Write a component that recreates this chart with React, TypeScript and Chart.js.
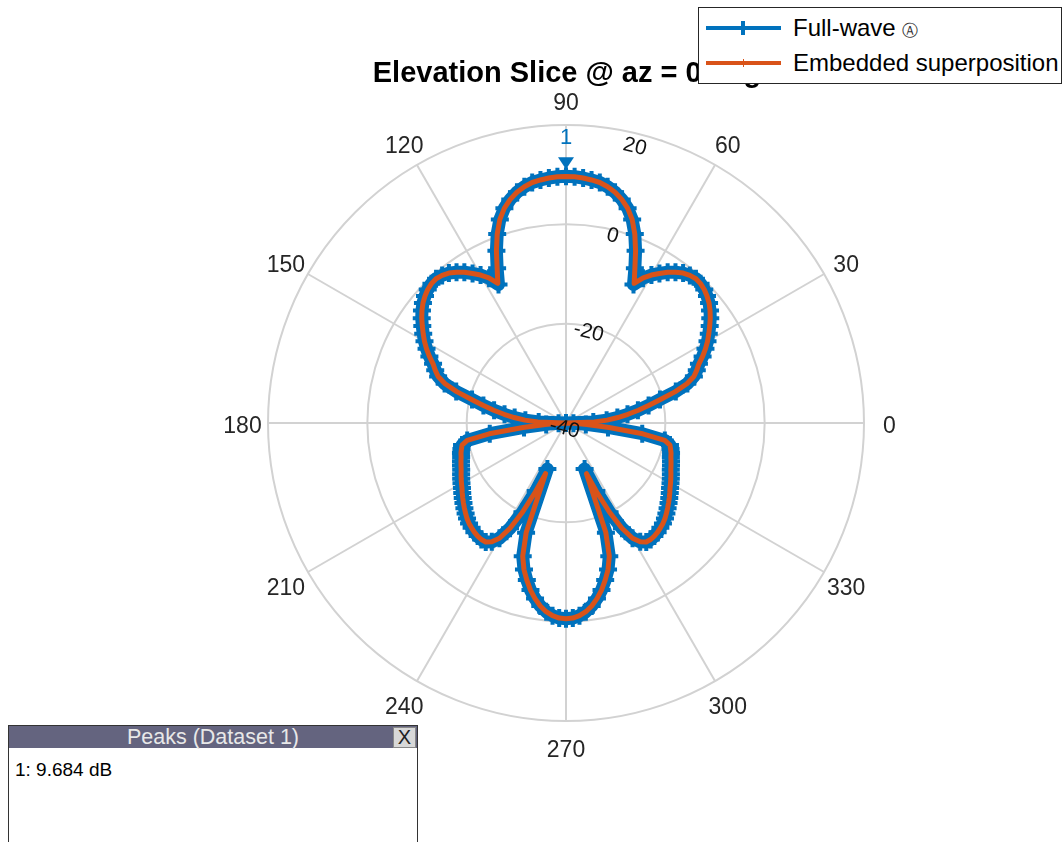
import React, { useEffect, useRef } from 'react';
import { Chart, registerables } from 'chart.js';

Chart.register(...registerables);

// Sample angles (deg, counter-clockwise from the right), 2-degree grid
const ANGLE_STEP = 2;
// Full-wave pattern (dB) at 0, 2, 4, ... 358 deg
const FULL_WAVE_DB = [
  -40, -34.5, -31.8, -29.6, -27.5, -25.3, -23.0, -20.5, -17.0, -14.3,
  -12.6, -11.6, -10.7, -9.4, -8.2, -7.1, -6.1, -5.1, -4.1, -3.2,
  -2.4, -1.8, -1.3, -1.0, -0.9, -1.2, -1.7, -2.5, -3.4, -4.5,
  -5.6, -7.0, -9.0, -5.9, -2.6, 0.5, 3.1, 5.0, 6.4, 7.5,
  8.3, 8.9, 9.2, 9.45, 9.62, 9.684, 9.62, 9.45, 9.2, 8.9,
  8.3, 7.5, 6.4, 5.0, 3.1, 0.5, -2.6, -5.9, -9.0, -7.0,
  -5.6, -4.5, -3.4, -2.5, -1.7, -1.2, -0.9, -1.0, -1.3, -1.8,
  -2.4, -3.2, -4.1, -5.1, -6.1, -7.1, -8.2, -9.4, -10.7, -11.6,
  -12.6, -14.3, -17.0, -20.5, -23.0, -25.3, -27.5, -29.6, -31.8, -34.5,
  -40, -38.5, -36.0, -31.5, -24.5, -19.8, -18.6, -18.3, -18.0, -17.8,
  -17.5, -17.2, -16.9, -16.5, -16.1, -15.7, -15.3, -14.8, -14.3, -13.8,
  -13.3, -12.8, -12.3, -11.9, -11.6, -11.3, -11.1, -11.0, -11.1, -11.8,
  -13.2, -16.0, -20.0, -25.0, -30.0, -16.5, -11.8, -9.3, -7.4, -5.6,
  -4.1, -2.8, -1.8, -1.1, -0.7, -0.6, -0.7, -1.1, -1.8, -2.8,
  -4.1, -5.6, -7.4, -9.3, -11.8, -16.5, -30.0, -25.0, -20.0, -16.0,
  -13.2, -11.8, -11.1, -11.0, -11.1, -11.3, -11.6, -11.9, -12.3, -12.8,
  -13.3, -13.8, -14.3, -14.8, -15.3, -15.7, -16.1, -16.5, -16.9, -17.2,
  -17.5, -17.8, -18.0, -18.3, -18.6, -19.8, -24.5, -31.5, -36.0, -38.5,
];
// Embedded superposition pattern (dB) at 0, 2, 4, ... 358 deg
const EMBEDDED_DB = [
  -40, -34.3, -31.7, -29.5, -27.4, -25.2, -22.9, -20.4, -17.1, -14.4,
  -12.6, -11.6, -10.7, -9.4, -8.2, -7.1, -6.1, -5.1, -4.1, -3.2,
  -2.4, -1.8, -1.3, -1.0, -0.9, -1.2, -1.7, -2.5, -3.4, -4.5,
  -5.6, -6.9, -8.7, -5.9, -2.6, 0.5, 3.1, 5.0, 6.4, 7.5,
  8.3, 8.9, 9.2, 9.45, 9.6, 9.65, 9.6, 9.45, 9.2, 8.9,
  8.3, 7.5, 6.4, 5.0, 3.1, 0.5, -2.6, -5.9, -8.7, -6.9,
  -5.6, -4.5, -3.4, -2.5, -1.7, -1.2, -0.9, -1.0, -1.3, -1.8,
  -2.4, -3.2, -4.1, -5.1, -6.1, -7.1, -8.2, -9.4, -10.7, -11.6,
  -12.6, -14.4, -17.1, -20.4, -22.9, -25.2, -27.4, -29.5, -31.7, -34.3,
  -40, -38.3, -35.8, -31.3, -24.4, -19.8, -18.6, -18.3, -18.0, -17.8,
  -17.5, -17.2, -16.9, -16.5, -16.1, -15.7, -15.3, -14.8, -14.3, -13.8,
  -13.3, -12.8, -12.3, -11.9, -11.6, -11.3, -11.1, -11.0, -11.1, -11.8,
  -13.2, -16.0, -20.0, -24.8, -29.0, -16.6, -11.8, -9.3, -7.4, -5.6,
  -4.1, -2.8, -1.8, -1.1, -0.7, -0.6, -0.7, -1.1, -1.8, -2.8,
  -4.1, -5.6, -7.4, -9.3, -11.8, -16.6, -29.0, -24.8, -20.0, -16.0,
  -13.2, -11.8, -11.1, -11.0, -11.1, -11.3, -11.6, -11.9, -12.3, -12.8,
  -13.3, -13.8, -14.3, -14.8, -15.3, -15.7, -16.1, -16.5, -16.9, -17.2,
  -17.5, -17.8, -18.0, -18.3, -18.6, -19.8, -24.4, -31.3, -35.8, -38.3,
];
const ANGLE_TICKS = [0, 30, 60, 90, 120, 150, 180, 210, 240, 270, 300, 330];
const MAG_MIN = -40;
const MAG_MAX = 20;
const MAG_STEP = 20;
const MAG_LABEL_ANGLE = 76; // angle along which the magnitude labels sit
const PEAK_ANGLE = 90;
const PEAK_DB = 9.684;
const SERIES_NAMES = ['Full-wave', 'Embedded superposition'];

const BLUE = '#0072BD';
const ORANGE = '#D95319';
const FONT = '"Liberation Sans", Arial, Helvetica, sans-serif';

export default function App() {
  const canvasRef = useRef<HTMLCanvasElement | null>(null);

  useEffect(() => {
    const n = FULL_WAVE_DB.length;
    // radar goes clockwise from the top: walk the angles downward
    const order: number[] = [];
    for (let i = 0; i < n; i++) {
      order.push((((MAG_LABEL_ANGLE - ANGLE_STEP * i) % 360) + 360) % 360);
    }
    const idxOf = (a: number) => order.indexOf(a);
    const labels = order.map((a) => String(a));
    const full = order.map((a) => FULL_WAVE_DB[a / ANGLE_STEP]);
    const emb = order.map((a) => EMBEDDED_DB[a / ANGLE_STEP]);

    const overlay = {
      id: 'polarOverlay',
      afterDraw(chart: any) {
        const s = chart.scales.r;
        const ctx = chart.ctx;
        ctx.save();
        ctx.font = `23px ${FONT}`;
        ctx.fillStyle = '#262626';
        ctx.textAlign = 'center';
        ctx.textBaseline = 'middle';
        ANGLE_TICKS.forEach((a) => {
          const p = s.getPointPosition(idxOf(a), s.drawingArea + 25.5);
          ctx.fillText(String(a), p.x, p.y + 4);
        });
        // peak marker
        const pi = idxOf(PEAK_ANGLE);
        const d = s.getDistanceFromCenterForValue(PEAK_DB);
        const m = s.getPointPosition(pi, d + 13);
        ctx.fillStyle = BLUE;
        ctx.beginPath();
        ctx.moveTo(m.x - 8, m.y - 6);
        ctx.lineTo(m.x + 8, m.y - 6);
        ctx.lineTo(m.x, m.y + 6);
        ctx.closePath();
        ctx.fill();
        const t = s.getPointPosition(pi, d + 38);
        ctx.font = `22px ${FONT}`;
        ctx.fillText('1', t.x, t.y);
        ctx.restore();
      },
    };

    const chart = new Chart(canvasRef.current as HTMLCanvasElement, {
      type: 'radar',
      data: {
        labels,
        datasets: [
          {
            label: SERIES_NAMES[1],
            data: emb,
            borderColor: ORANGE,
            borderWidth: 5,
            pointRadius: 0,
            fill: false,
            tension: 0,
            borderJoinStyle: 'round',
          },
          {
            label: SERIES_NAMES[0],
            data: full,
            borderColor: BLUE,
            borderWidth: 13,
            pointStyle: 'cross',
            pointRadius: 9,
            pointBorderWidth: 4,
            pointBorderColor: BLUE,
            pointBackgroundColor: BLUE,
            fill: false,
            tension: 0,
            borderJoinStyle: 'round',
          },
        ],
      } as any,
      options: {
        responsive: false,
        animation: false,
        events: [],
        layout: { padding: { left: 255, right: 186, top: 112, bottom: 108 } },
        plugins: { legend: { display: false }, title: { display: false }, tooltip: { enabled: false } },
        scales: {
          r: {
            min: MAG_MIN,
            max: MAG_MAX,
            startAngle: 90 - MAG_LABEL_ANGLE,
            grid: { circular: true, color: '#d2d2d2', lineWidth: 2 },
            angleLines: {
              display: true,
              color: '#d2d2d2',
              lineWidth: (c: any) => (ANGLE_TICKS.includes(order[c.index]) ? 2 : 0),
            },
            pointLabels: { display: false },
            ticks: {
              stepSize: MAG_STEP,
              showLabelBackdrop: false,
              color: '#111111',
              z: 2,
              font: (c: any) => ({
                family: FONT,
                size: 21,
                lineHeight: c.index === 3 ? 0.64 : 0.28,
              }),
              callback: (v: any) => ['', String(v)],
            },
          },
        },
      } as any,
      plugins: [overlay],
    });
    return () => chart.destroy();
  }, []);

  return (
    <div
      style={{
        position: 'fixed',
        left: 0,
        top: 0,
        width: 1063,
        height: 842,
        background: '#ffffff',
        overflow: 'hidden',
        fontFamily: FONT,
      }}
    >
      <canvas ref={canvasRef} width={1063} height={842} style={{ position: 'absolute', left: 0, top: 0 }} />
      <div
        style={{
          position: 'absolute',
          left: 567,
          top: 56,
          transform: 'translateX(-50%)',
          whiteSpace: 'nowrap',
          fontWeight: 'bold',
          fontSize: 29,
          lineHeight: '32px',
          color: '#000',
        }}
      >
        Elevation Slice @ az = 0 deg
      </div>
      <div
        style={{
          position: 'absolute',
          left: 698,
          top: 7,
          width: 362,
          height: 75,
          border: '1px solid #262626',
          background: '#fff',
          fontSize: 24,
          color: '#000',
        }}
      >
        <div style={{ position: 'absolute', left: 7, top: 18, width: 75, height: 4, background: BLUE }} />
        <div style={{ position: 'absolute', left: 42, top: 13, width: 4, height: 14, background: BLUE }} />
        <div style={{ position: 'absolute', left: 94, top: 5, lineHeight: '30px', whiteSpace: 'nowrap' }}>
          {SERIES_NAMES[0]} <span style={{ fontSize: 16, fontFamily: '"DejaVu Sans", sans-serif', color: '#333' }}>{'\u24B6'}</span>
        </div>
        <div style={{ position: 'absolute', left: 7, top: 53, width: 75, height: 4, background: ORANGE }} />
        <div style={{ position: 'absolute', left: 43.5, top: 51, width: 1.5, height: 8, background: ORANGE }} />
        <div style={{ position: 'absolute', left: 94, top: 40, lineHeight: '30px', whiteSpace: 'nowrap' }}>{SERIES_NAMES[1]}</div>
      </div>
      <div
        style={{
          position: 'absolute',
          left: 8,
          top: 725,
          width: 408,
          height: 140,
          border: '1px solid #333',
          background: '#fff',
        }}
      >
        <div
          style={{
            position: 'absolute',
            left: 0,
            top: 0,
            width: 408,
            height: 22,
            background: '#64647f',
            color: '#e8e8e8',
            fontSize: 21.5,
            lineHeight: '22px',
            textAlign: 'center',
          }}
        >
          Peaks (Dataset 1)
        </div>
        <div
          style={{
            position: 'absolute',
            left: 384,
            top: 1,
            width: 21,
            height: 19,
            background: '#d8d8d8',
            border: '1px solid #888',
            color: '#222',
            fontSize: 20,
            lineHeight: '19px',
            textAlign: 'center',
          }}
        >
          X
        </div>
        <div style={{ position: 'absolute', left: 6, top: 33, fontSize: 19, color: '#000', whiteSpace: 'nowrap' }}>1: 9.684 dB</div>
      </div>
    </div>
  );
}
